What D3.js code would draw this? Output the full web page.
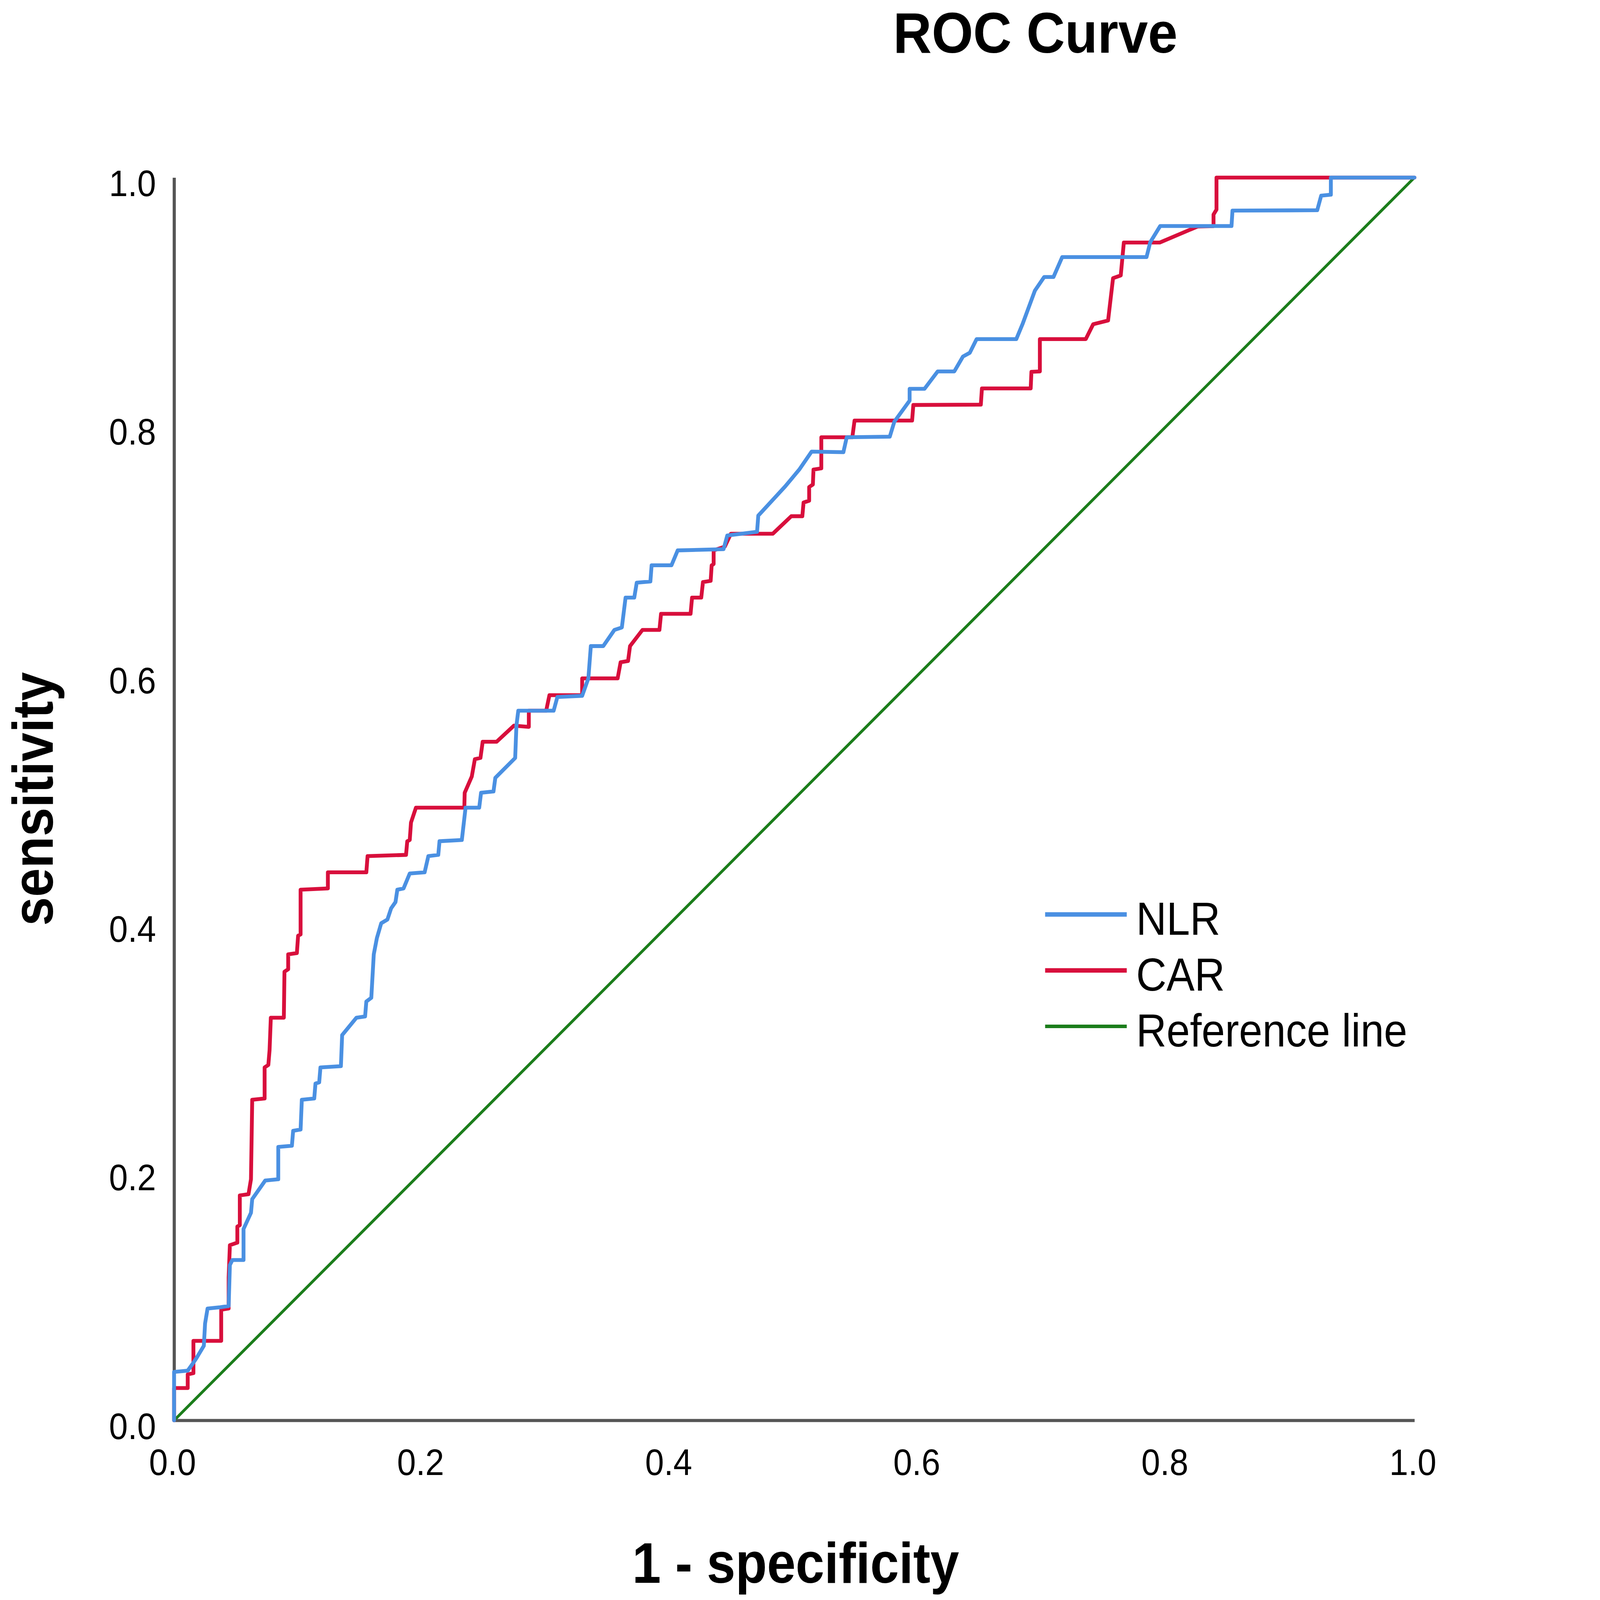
<!DOCTYPE html>
<html>
<head>
<meta charset="utf-8">
<script src="https://cdn.jsdelivr.net/npm/d3@7"></script>
<style>
  html, body { margin: 0; padding: 0; background: #fff; overflow: hidden; }
  text { font-family: "Liberation Sans", Arial, Helvetica, sans-serif; fill: #000; }
</style>
</head>
<body>
<div id="chart"></div>
<script>
// ROC curves, points [1 - specificity, sensitivity]
var nlrPoints = [
  [0,0],[0,0.039],[0.011,0.040],[0.016,0.047],[0.018,0.050],[0.024,0.060],[0.025,0.078],
  [0.027,0.090],[0.037,0.091],[0.044,0.092],[0.045,0.125],[0.047,0.129],[0.056,0.129],
  [0.056,0.154],[0.062,0.167],[0.063,0.178],[0.0735,0.193],[0.084,0.194],[0.084,0.220],
  [0.095,0.221],[0.096,0.233],[0.102,0.234],[0.103,0.258],[0.113,0.259],[0.114,0.271],
  [0.117,0.272],[0.118,0.284],[0.1345,0.285],[0.1355,0.310],[0.147,0.324],[0.154,0.325],
  [0.155,0.337],[0.159,0.340],[0.161,0.375],[0.1635,0.388],[0.167,0.400],[0.172,0.403],
  [0.175,0.412],[0.1785,0.417],[0.180,0.427],[0.185,0.428],[0.190,0.440],[0.202,0.441],
  [0.205,0.454],[0.213,0.455],[0.214,0.466],[0.232,0.467],[0.235,0.493],[0.246,0.493],
  [0.2475,0.505],[0.2575,0.506],[0.259,0.517],[0.275,0.533],[0.276,0.559],[0.2775,0.571],
  [0.306,0.571],[0.309,0.582],[0.329,0.583],[0.334,0.597],[0.336,0.623],[0.346,0.623],
  [0.355,0.636],[0.361,0.638],[0.364,0.662],[0.371,0.662],[0.373,0.674],[0.384,0.675],
  [0.385,0.688],[0.401,0.688],[0.406,0.700],[0.443,0.701],[0.446,0.712],[0.470,0.715],
  [0.471,0.728],[0.4927,0.7515],[0.504,0.765],[0.514,0.7795],[0.5396,0.779],[0.5423,0.791],
  [0.577,0.7915],[0.5807,0.8036],[0.593,0.8205],[0.593,0.830],[0.605,0.830],[0.6156,0.844],
  [0.629,0.844],[0.636,0.856],[0.6415,0.859],[0.647,0.870],[0.679,0.870],[0.684,0.882],
  [0.694,0.909],[0.7015,0.920],[0.709,0.920],[0.716,0.936],[0.784,0.936],[0.787,0.948],
  [0.795,0.961],[0.8525,0.961],[0.8533,0.9734],[0.9216,0.9737],[0.9248,0.9854],
  [0.9326,0.9862],[0.9326,1.0],[1,1]
];

var carPoints = [
  [0,0],[0,0.026],[0.011,0.026],[0.011,0.037],[0.0156,0.038],[0.0156,0.064],[0.038,0.064],
  [0.038,0.089],[0.044,0.090],[0.044,0.115],[0.045,0.141],[0.051,0.143],[0.051,0.156],
  [0.053,0.157],[0.053,0.181],[0.060,0.182],[0.062,0.194],[0.063,0.258],[0.073,0.259],
  [0.073,0.284],[0.076,0.286],[0.077,0.298],[0.078,0.324],[0.0885,0.324],[0.089,0.361],
  [0.092,0.363],[0.092,0.375],[0.099,0.376],[0.100,0.390],[0.102,0.391],[0.102,0.427],
  [0.124,0.428],[0.124,0.441],[0.155,0.441],[0.156,0.454],[0.187,0.455],[0.188,0.466],
  [0.190,0.467],[0.191,0.481],[0.195,0.493],[0.234,0.493],[0.2343,0.505],[0.240,0.518],
  [0.2425,0.532],[0.247,0.533],[0.2488,0.546],[0.260,0.546],[0.274,0.559],[0.286,0.558],
  [0.286,0.571],[0.300,0.571],[0.3026,0.5835],[0.329,0.5835],[0.329,0.597],[0.3576,0.597],
  [0.360,0.610],[0.366,0.611],[0.3676,0.623],[0.3776,0.636],[0.3913,0.636],[0.3926,0.649],
  [0.4164,0.649],[0.4176,0.662],[0.425,0.662],[0.4264,0.6745],[0.4326,0.6755],[0.4334,0.688],
  [0.435,0.689],[0.435,0.700],[0.444,0.703],[0.4489,0.7134],[0.4827,0.7134],[0.4976,0.7275],
  [0.5065,0.7275],[0.5075,0.7385],[0.512,0.740],[0.512,0.751],[0.515,0.753],[0.5155,0.765],
  [0.5218,0.766],[0.5218,0.791],[0.5468,0.791],[0.5486,0.8045],[0.595,0.8045],[0.596,0.817],
  [0.6504,0.8173],[0.6513,0.8303],[0.6906,0.8303],[0.6912,0.8437],[0.698,0.844],[0.698,0.870],
  [0.735,0.870],[0.741,0.882],[0.753,0.885],[0.757,0.919],[0.7632,0.9212],[0.7657,0.9477],
  [0.7946,0.9477],[0.8251,0.9606],[0.838,0.9609],[0.838,0.9702],[0.8404,0.9742],
  [0.8404,1.0],[1,1]
];

var refPoints = [[0,0],[1,1]];

var tickValues = [0, 0.2, 0.4, 0.6, 0.8, 1.0];
var seriesNames = ["NLR", "CAR", "Reference line"];

// styling
var colors = { NLR: "#4a90e2", CAR: "#d80f3c", "Reference line": "#1b7d1b" };
var widths = { NLR: 11, CAR: 11, "Reference line": 8 };
var squeeze = 0.91;   // the picture's lettering is a little narrower than Arial

var W = 4152, H = 4605;
var plot = { left: 501, right: 4071, top: 511, bottom: 4088 };

// fit the whole drawing into whatever viewport we actually get
var vw = window.innerWidth || W, vh = window.innerHeight || H;
var k = Math.min(vw / W, vh / H, 1);

var svg = d3.select("#chart").append("svg")
  .attr("viewBox", "0 0 " + W + " " + H)
  .attr("width", W * k).attr("height", H * k)
  .style("display", "block").style("background", "#fff");

var x = d3.scaleLinear().domain([0, 1]).range([plot.left, plot.right]);
var y = d3.scaleLinear().domain([0, 1]).range([plot.bottom, plot.top]);

// axes
var xAxis = svg.append("g")
  .attr("transform", "translate(0," + plot.bottom + ")")
  .call(d3.axisBottom(x).tickValues(tickValues).tickSize(0).tickSizeOuter(0)
    .tickFormat(d3.format(".1f")));
var yAxis = svg.append("g")
  .attr("transform", "translate(" + plot.left + ",0)")
  .call(d3.axisLeft(y).tickValues(tickValues).tickSize(0).tickSizeOuter(0)
    .tickFormat(d3.format(".1f")));

[xAxis, yAxis].forEach(function(g) {
  g.select(".domain").attr("stroke", "#555").attr("stroke-width", 9);
  g.selectAll("text")
    .attr("fill", "#000")
    .style("font-size", "107px")
    .style("font-family", '"Liberation Sans", Arial, sans-serif');
});

xAxis.selectAll("text")
  .attr("y", 0).attr("dy", null)
  .attr("text-anchor", "middle")
  .attr("transform", "translate(-5,157) scale(" + squeeze + ",1)");
yAxis.selectAll("text")
  .attr("x", 0).attr("dy", null)
  .attr("text-anchor", "end")
  .attr("transform", "translate(-52,53) scale(" + squeeze + ",1)");

// curves
var line = d3.line()
  .x(function(d) { return x(d[0]); })
  .y(function(d) { return y(d[1]); });

var series = [
  { name: "Reference line", values: refPoints },
  { name: "CAR", values: carPoints },
  { name: "NLR", values: nlrPoints }
];

svg.append("g").selectAll("path")
  .data(series)
  .enter().append("path")
  .attr("d", function(d) { return line(d.values); })
  .attr("fill", "none")
  .attr("stroke", function(d) { return colors[d.name]; })
  .attr("stroke-width", function(d) { return widths[d.name]; })
  .attr("stroke-linejoin", "round")
  .attr("stroke-linecap", "round");

// legend
var legend = svg.append("g").attr("transform", "translate(3008,2632)");
var item = legend.selectAll("g")
  .data(seriesNames)
  .enter().append("g")
  .attr("transform", function(d, i) { return "translate(0," + (i * 161) + ")"; });
item.append("line")
  .attr("x1", 0).attr("x2", 235).attr("y1", 0).attr("y2", 0)
  .attr("stroke", function(d) { return colors[d]; })
  .attr("stroke-width", function(d) { return widths[d] + 2; });
item.append("text")
  .attr("transform", "translate(262,58) scale(" + squeeze + ",1)")
  .style("font-size", "133px")
  .text(function(d) { return d; });

// titles
svg.append("text")
  .attr("transform", "translate(2980,152) scale(0.93,1)")
  .attr("text-anchor", "middle")
  .style("font-size", "165px").style("font-weight", "bold")
  .text("ROC Curve");

svg.append("text")
  .attr("transform", "translate(" + (x(0.5) + 4) + ",4555) scale(0.9,1)")
  .attr("text-anchor", "middle")
  .style("font-size", "165px").style("font-weight", "bold")
  .text("1 - specificity");

svg.append("text")
  .attr("transform", "translate(152," + y(0.5) + ") rotate(-90) scale(0.905,1)")
  .attr("text-anchor", "middle")
  .style("font-size", "165px").style("font-weight", "bold")
  .text("sensitivity");
</script>
</body>
</html>
